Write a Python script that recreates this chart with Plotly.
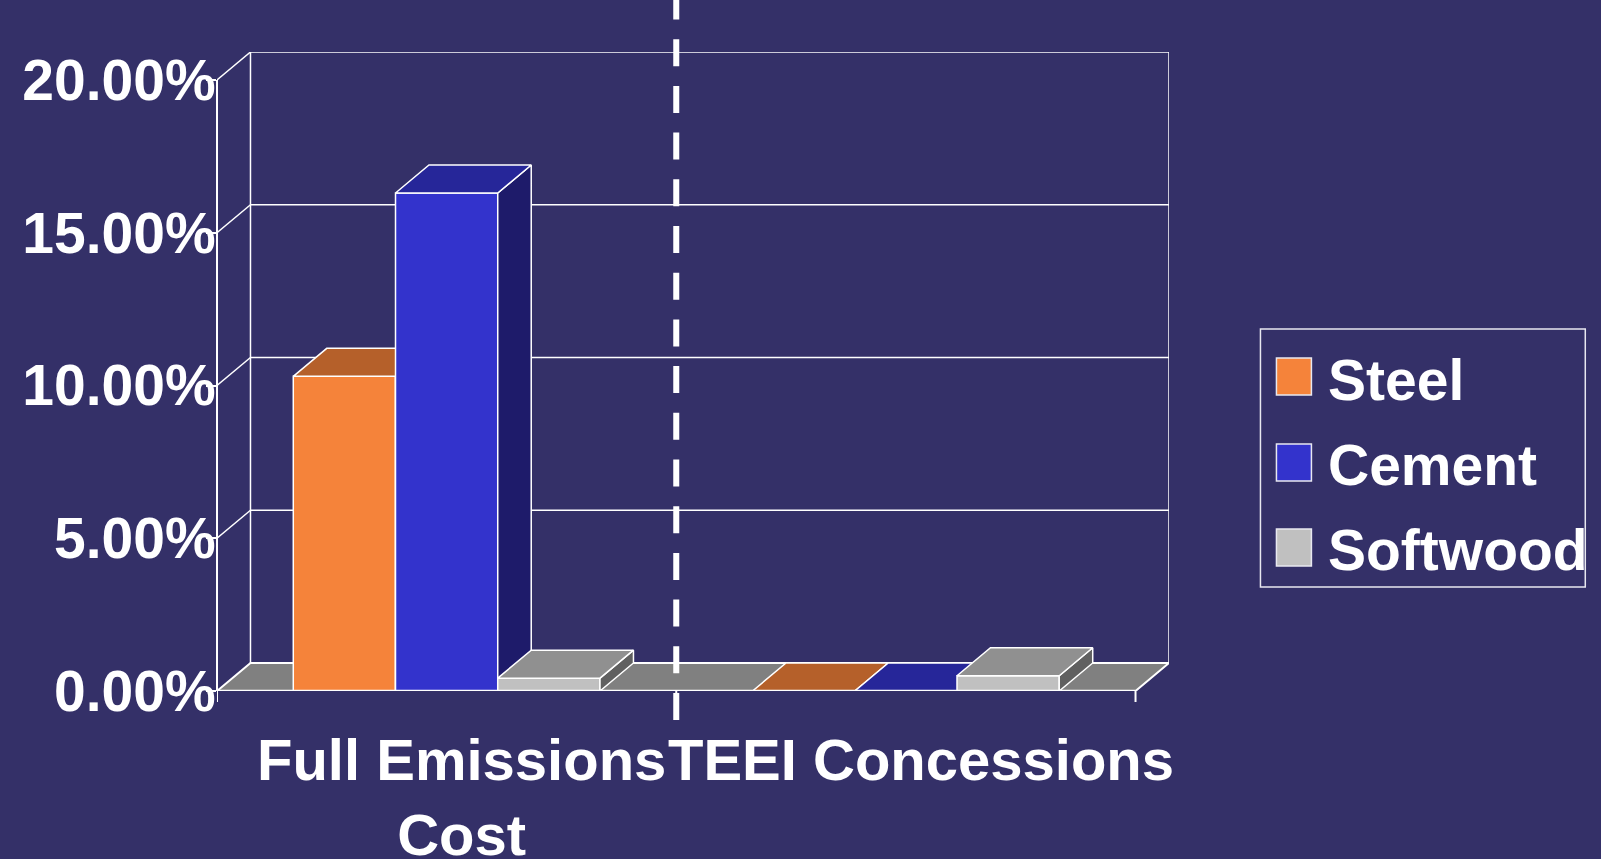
import plotly.graph_objects as go

# ---------------- data ----------------
categories = ["Full Emissions<br>Cost", "TEEI Concessions"]
series_names = ["Steel", "Cement", "Softwood"]
steel = [10.3, 0.0]
cement = [16.3, 0.0]
softwood = [0.42, 0.5]
y_ticks = [0, 5, 10, 15, 20]
y_tick_labels = ["0.00%", "5.00%", "10.00%", "15.00%", "20.00%"]

# ---------------- style ----------------
BG = "#343068"
FONT = "Liberation Sans, Arial, Helvetica, sans-serif"
front_col = {"Steel": "#F5833A", "Cement": "#3333CC", "Softwood": "#C0C0C0"}
top_col = {"Steel": "#B5602A", "Cement": "#262699", "Softwood": "#909090"}
side_col = {"Steel": "#8A4A20", "Cement": "#1E1B6A", "Softwood": "#606060"}
FLOOR = "#808080"
EDGE = "white"

# pixel geometry of the plot area (front plane)
L, R_FRONT, TOP_PX, BOT_PX = 217, 1136, 52, 691
W, H = 1601, 859
YMAX = 20
PX_PER_CAT = (R_FRONT - L) / len(categories)
PX_PER_PCT = 611 / YMAX
DX = 33.5 / PX_PER_CAT      # depth offset in category units
DY = 28 / PX_PER_PCT        # depth offset in percent units
BAR_W = 0.2226
GROUP_W = BAR_W * len(series_names)

x_range = [-0.5, len(categories) - 0.5 + DX]
y_range = [0, YMAX + DY]
plot_w = (x_range[1] - x_range[0]) * PX_PER_CAT
plot_h = BOT_PX - TOP_PX


def px2paper_x(px):
    return (px - L) / plot_w


def px2paper_y(py):
    return (BOT_PX - py) / plot_h


fig = go.Figure()


def poly(xs, ys, fill, width=1.5):
    fig.add_trace(go.Scatter(
        x=list(xs) + [xs[0]], y=list(ys) + [ys[0]], mode="lines", fill="toself",
        fillcolor=fill, line=dict(color=EDGE, width=width),
        hoverinfo="skip", showlegend=False))


def line(xs, ys, width=1.5):
    fig.add_trace(go.Scatter(x=xs, y=ys, mode="lines", line=dict(color=EDGE, width=width),
                             hoverinfo="skip", showlegend=False))


x_lo, x_hi = -0.5, len(categories) - 0.5

# floor
poly([x_lo, x_hi, x_hi + DX, x_lo + DX], [0, 0, DY, DY], FLOOR, width=2)

# back wall grid + left-wall diagonals
for v in y_ticks[1:]:
    line([x_lo + DX, x_hi + DX], [v + DY, v + DY])
    line([x_lo, x_lo + DX], [v, v + DY])
line([x_lo + DX, x_lo + DX], [DY, YMAX + DY])
line([x_hi + DX, x_hi + DX], [DY, YMAX + DY])

# bars
series_vals = {"Steel": steel, "Cement": cement, "Softwood": softwood}
for c in range(len(categories)):
    for j, name in enumerate(series_names):
        v = series_vals[name][c]
        x0 = c - GROUP_W / 2 + j * BAR_W
        x1 = x0 + BAR_W
        if v > 0:
            poly([x0, x1, x1, x0], [0, 0, v, v], front_col[name])
            poly([x1, x1 + DX, x1 + DX, x1], [0, DY, v + DY, v], side_col[name])
        poly([x0, x1, x1 + DX, x0 + DX], [v, v, v + DY, v + DY], top_col[name])

shapes = []
# front value axis line
shapes.append(dict(type="line", xref="paper", yref="y", x0=0, x1=0, y0=0, y1=YMAX,
                   line=dict(color=EDGE, width=2)))
# front baseline
shapes.append(dict(type="line", xref="x", yref="y", x0=x_lo, x1=x_hi, y0=0, y1=0,
                   line=dict(color=EDGE, width=2.5)))
# category boundary ticks
for b in [x_lo + k for k in range(len(categories) + 1)]:
    shapes.append(dict(type="line", xref="x", yref="paper", x0=b, x1=b,
                       y0=0, y1=px2paper_y(BOT_PX + 11), line=dict(color=EDGE, width=2)))
# dashed divider between categories
shapes.append(dict(type="line", xref="x", yref="paper", x0=0.5, x1=0.5,
                   y0=px2paper_y(720), y1=px2paper_y(0),
                   line=dict(color=EDGE, width=6, dash="27px,19.7px")))

# legend (manual)
shapes.append(dict(type="rect", xref="paper", yref="paper",
                   x0=px2paper_x(1261), x1=px2paper_x(1586), y0=px2paper_y(587), y1=px2paper_y(329),
                   line=dict(color="#E8E8F0", width=1.5), fillcolor="rgba(0,0,0,0)"))
leg_sq_top = [358, 444, 529]
leg_base = [400, 485, 570]
annotations = []
for name, sq, bl in zip(series_names, leg_sq_top, leg_base):
    shapes.append(dict(type="rect", xref="paper", yref="paper",
                       x0=px2paper_x(1277), x1=px2paper_x(1312),
                       y0=px2paper_y(sq + 37), y1=px2paper_y(sq),
                       line=dict(color="#E8E8F0", width=1.5), fillcolor=front_col[name]))
    annotations.append(dict(xref="paper", yref="paper", x=px2paper_x(1327),
                            y=px2paper_y(bl - 57 * 0.3465), xanchor="left", yanchor="middle",
                            text=name, showarrow=False,
                            font=dict(family=FONT, size=57, color="white", weight="bold")))

# category labels
for c, cat in enumerate(categories):
    annotations.append(dict(xref="x", yref="paper", x=c + DX * 0.45, y=px2paper_y(778 - 58 * 0.905),
                            xanchor="center", yanchor="top", text=cat, showarrow=False,
                            align="center", borderpad=0,
                            font=dict(family=FONT, size=58, color="white", weight="bold")))

fig.update_layout(
    width=W, height=H,
    margin=dict(l=L, r=W - L - plot_w, t=TOP_PX, b=H - BOT_PX, pad=0),
    paper_bgcolor=BG, plot_bgcolor=BG,
    showlegend=False,
    shapes=shapes, annotations=annotations,
    xaxis=dict(range=x_range, visible=False, fixedrange=True),
    yaxis=dict(range=y_range, tickmode="array", tickvals=y_ticks, ticktext=y_tick_labels,
               showgrid=False, zeroline=False, showline=False,
               ticks="outside", ticklen=10, tickwidth=2, tickcolor=EDGE,
               ticklabelstandoff=-21,
               tickfont=dict(family=FONT, size=57, color="white", weight="bold"),
               fixedrange=True),
)

fig.write_html("out.html")
